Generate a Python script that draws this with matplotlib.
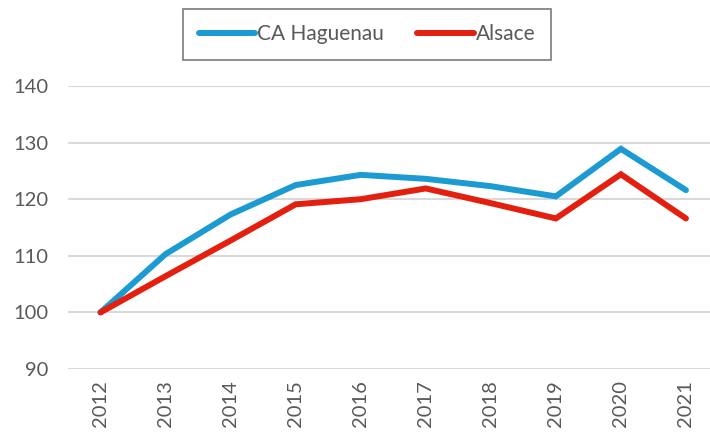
import matplotlib
matplotlib.use("Agg")
import matplotlib.pyplot as plt

# Données
years = ["2012", "2013", "2014", "2015", "2016", "2017", "2018", "2019", "2020", "2021"]
ca_haguenau = [100, 110.3, 117.3, 122.5, 124.3, 123.6, 122.3, 120.5, 128.9, 121.6]
alsace = [100, 106.4, 112.7, 119.1, 120.0, 121.9, 119.3, 116.6, 124.4, 116.6]

plt.rcParams['font.family'] = ['Lato', 'DejaVu Sans']

fig = plt.figure(figsize=(7.1, 4.32), dpi=100)
ax = fig.add_axes([68 / 710, 1 - 369 / 432, 1 - 68 / 710, (369 - 86) / 432])

x = range(len(years))
ax.plot(x, ca_haguenau, color='#1B9BD1', linewidth=4.3, label="CA Haguenau",
        solid_capstyle='round', solid_joinstyle='miter')
ax.plot(x, alsace, color='#E3200F', linewidth=4.3, label="Alsace",
        solid_capstyle='round', solid_joinstyle='miter')

ax.set_ylim(90, 140)
ax.set_xlim(-0.5, 9.37)
ax.set_yticks([90, 100, 110, 120, 130, 140])
ax.set_xticks(list(x))
ax.set_xticklabels(years, rotation=90)
ax.tick_params(length=0, labelsize=14.5, colors='#595959', pad=8)
ax.tick_params(axis='y', pad=14)
ax.grid(axis='y', color='#D9D9D9', linewidth=1.5)
ax.set_axisbelow(True)
for s in ax.spines.values():
    s.set_visible(False)

leg = fig.legend(loc='center', bbox_to_anchor=(367 / 710, 1 - 34.5 / 432), ncol=2,
                 frameon=True, fancybox=False, fontsize=15, handlelength=2.7,
                 columnspacing=1.6, borderpad=0.75, handletextpad=0.1)
leg.get_frame().set_edgecolor('#595959')
leg.get_frame().set_linewidth(1.2)
for t in leg.get_texts():
    t.set_color('#595959')

fig.savefig("out.png", dpi=100)
